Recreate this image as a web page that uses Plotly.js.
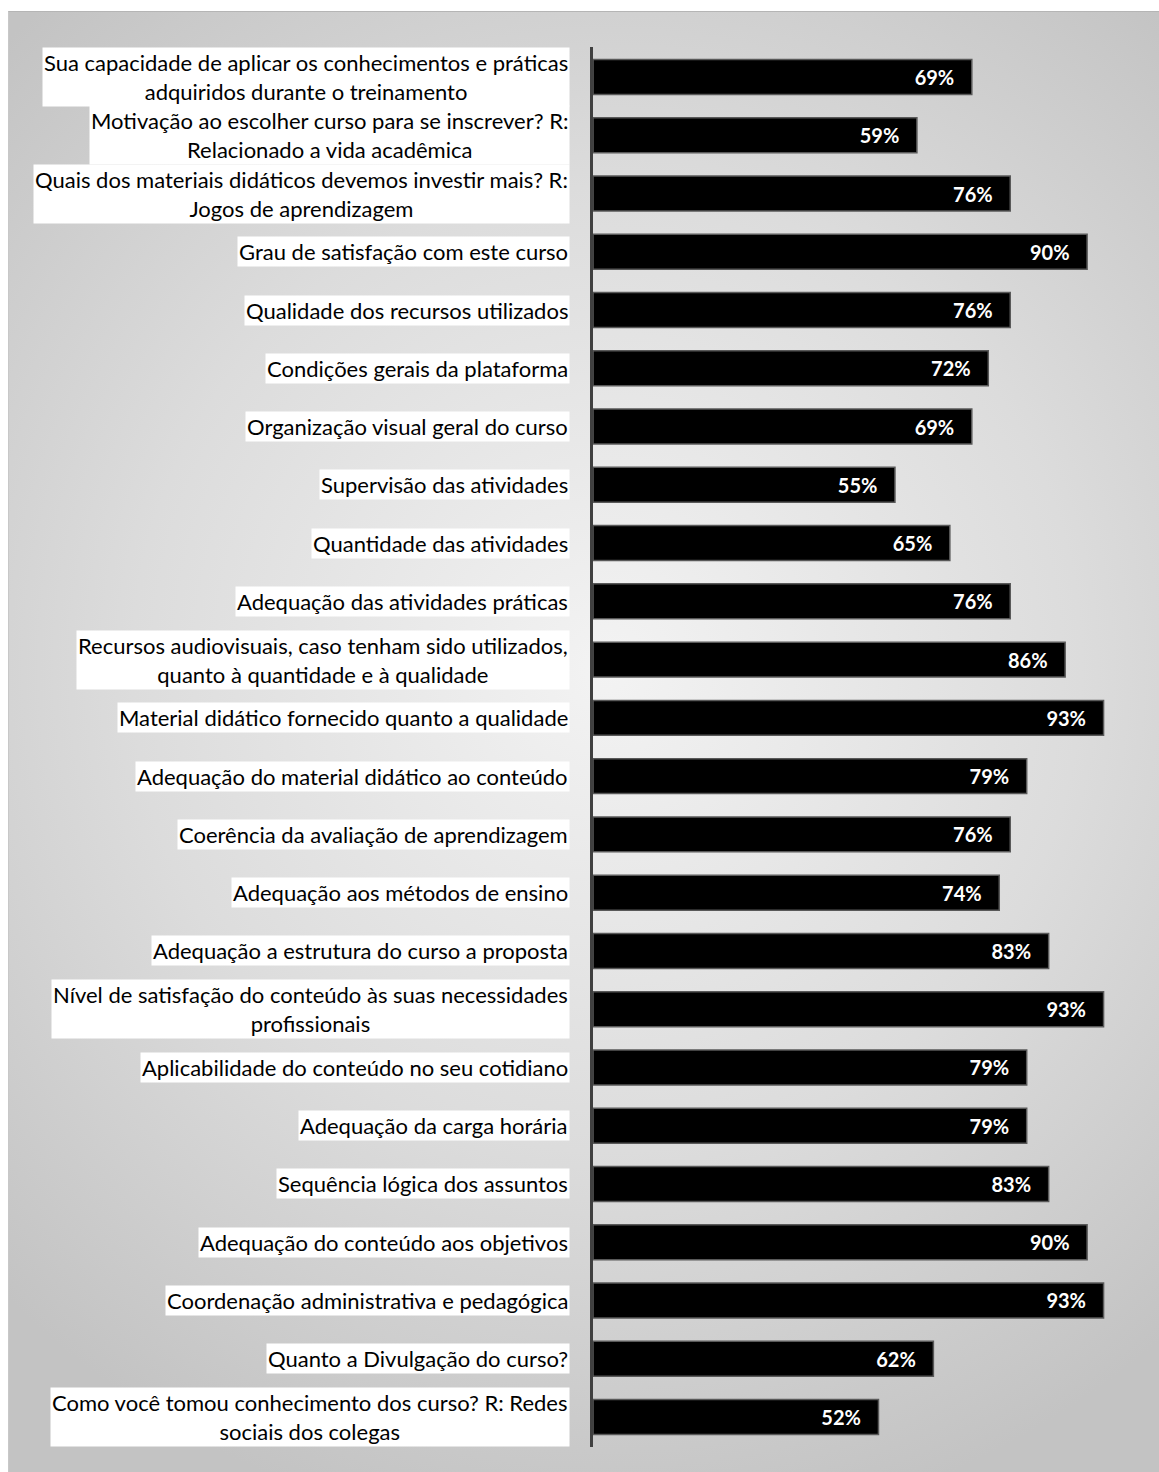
<!DOCTYPE html>
<html>
<head>
<meta charset="utf-8">
<script src="https://cdn.plot.ly/plotly-3.0.1.min.js"></script>
<style>
  html, body { margin: 0; padding: 0; background: #ffffff; }
  #wrap { position: relative; width: 1159px; height: 1472px; overflow: hidden; }
  #bg { position: absolute; left: 8px; top: 11px; right: 0; bottom: 0;
        border-top: 1px solid #b5b5b5; border-left: 1px solid #c8c8c8;
        background: radial-gradient(ellipse 75% 60% at 52% 45%, #f3f3f3 0%, #dcdcdc 55%, #c3c3c3 100%); }
  #chart { position: absolute; left: 0; top: 0; width: 1159px; height: 1472px; }
</style>
</head>
<body>
<div id="wrap">
  <div id="bg"></div>
  <div id="chart"></div>
</div>
<script>
const categories = [
  "Sua capacidade de aplicar os conhecimentos e práticas<br>adquiridos durante o treinamento",
  "Motivação ao escolher curso para se inscrever? R:<br>Relacionado a vida acadêmica",
  "Quais dos materiais didáticos devemos investir mais? R:<br>Jogos de aprendizagem",
  "Grau de satisfação com este curso",
  "Qualidade dos recursos utilizados",
  "Condições gerais da plataforma",
  "Organização visual geral do curso",
  "Supervisão das atividades",
  "Quantidade das atividades",
  "Adequação das atividades práticas",
  "Recursos audiovisuais, caso tenham sido utilizados,<br>quanto à quantidade e à qualidade",
  "Material didático fornecido quanto a qualidade",
  "Adequação do material didático ao conteúdo",
  "Coerência da avaliação de aprendizagem",
  "Adequação aos métodos de ensino",
  "Adequação a estrutura do curso a proposta",
  "Nível de satisfação do conteúdo às suas necessidades<br>profissionais",
  "Aplicabilidade do conteúdo no seu cotidiano",
  "Adequação da carga horária",
  "Sequência lógica dos assuntos",
  "Adequação do conteúdo aos objetivos",
  "Coordenação administrativa e pedagógica",
  "Quanto a Divulgação do curso?",
  "Como você tomou conhecimento dos curso? R: Redes<br>sociais dos colegas"
];
const values = [69, 59, 76, 90, 76, 72, 69, 55, 65, 76, 86, 93, 79, 76, 74, 83, 93, 79, 79, 83, 90, 93, 62, 52];
const valueLabels = values.map(v => v + "%\u00a0\u00a0\u00a0");

const ids = categories.map((c, i) => "c" + i);

const trace = {
  type: "bar",
  orientation: "h",
  x: values,
  y: ids,
  width: 0.6,
  marker: { color: "#000000", line: { color: "#595959", width: 1.5 } },
  text: valueLabels,
  textposition: "inside",
  insidetextanchor: "end",
  textfont: { family: "Lato, 'Open Sans', sans-serif", size: 20, color: "#ffffff", weight: "bold" },
  constraintext: "none",
  hoverinfo: "skip",
  cliponaxis: false
};

const annotations = categories.map((c, i) => ({
  xref: "paper", yref: "y",
  x: 0, y: ids[i],
  xanchor: "right", yanchor: "middle",
  xshift: -23,
  text: c,
  showarrow: false,
  align: "center",
  bgcolor: "#ffffff",
  borderpad: 1,
  font: { family: "Lato, 'Noto Sans', sans-serif", size: 22, color: "#000000" }
}));

const layout = {
  width: 1159, height: 1472,
  paper_bgcolor: "rgba(0,0,0,0)",
  plot_bgcolor: "rgba(0,0,0,0)",
  margin: { l: 593, r: 17, t: 47, b: 25 },
  showlegend: false,
  xaxis: { range: [0, 100], visible: false, fixedrange: true },
  yaxis: {
    type: "category",
    autorange: "reversed",
    showticklabels: false,
    ticks: "",
    showgrid: false,
    zeroline: false,
    showline: true,
    linecolor: "#404040",
    linewidth: 3,
    fixedrange: true
  },
  annotations: annotations
};

Plotly.newPlot("chart", [trace], layout, { displayModeBar: false, staticPlot: true });
</script>
</body>
</html>
